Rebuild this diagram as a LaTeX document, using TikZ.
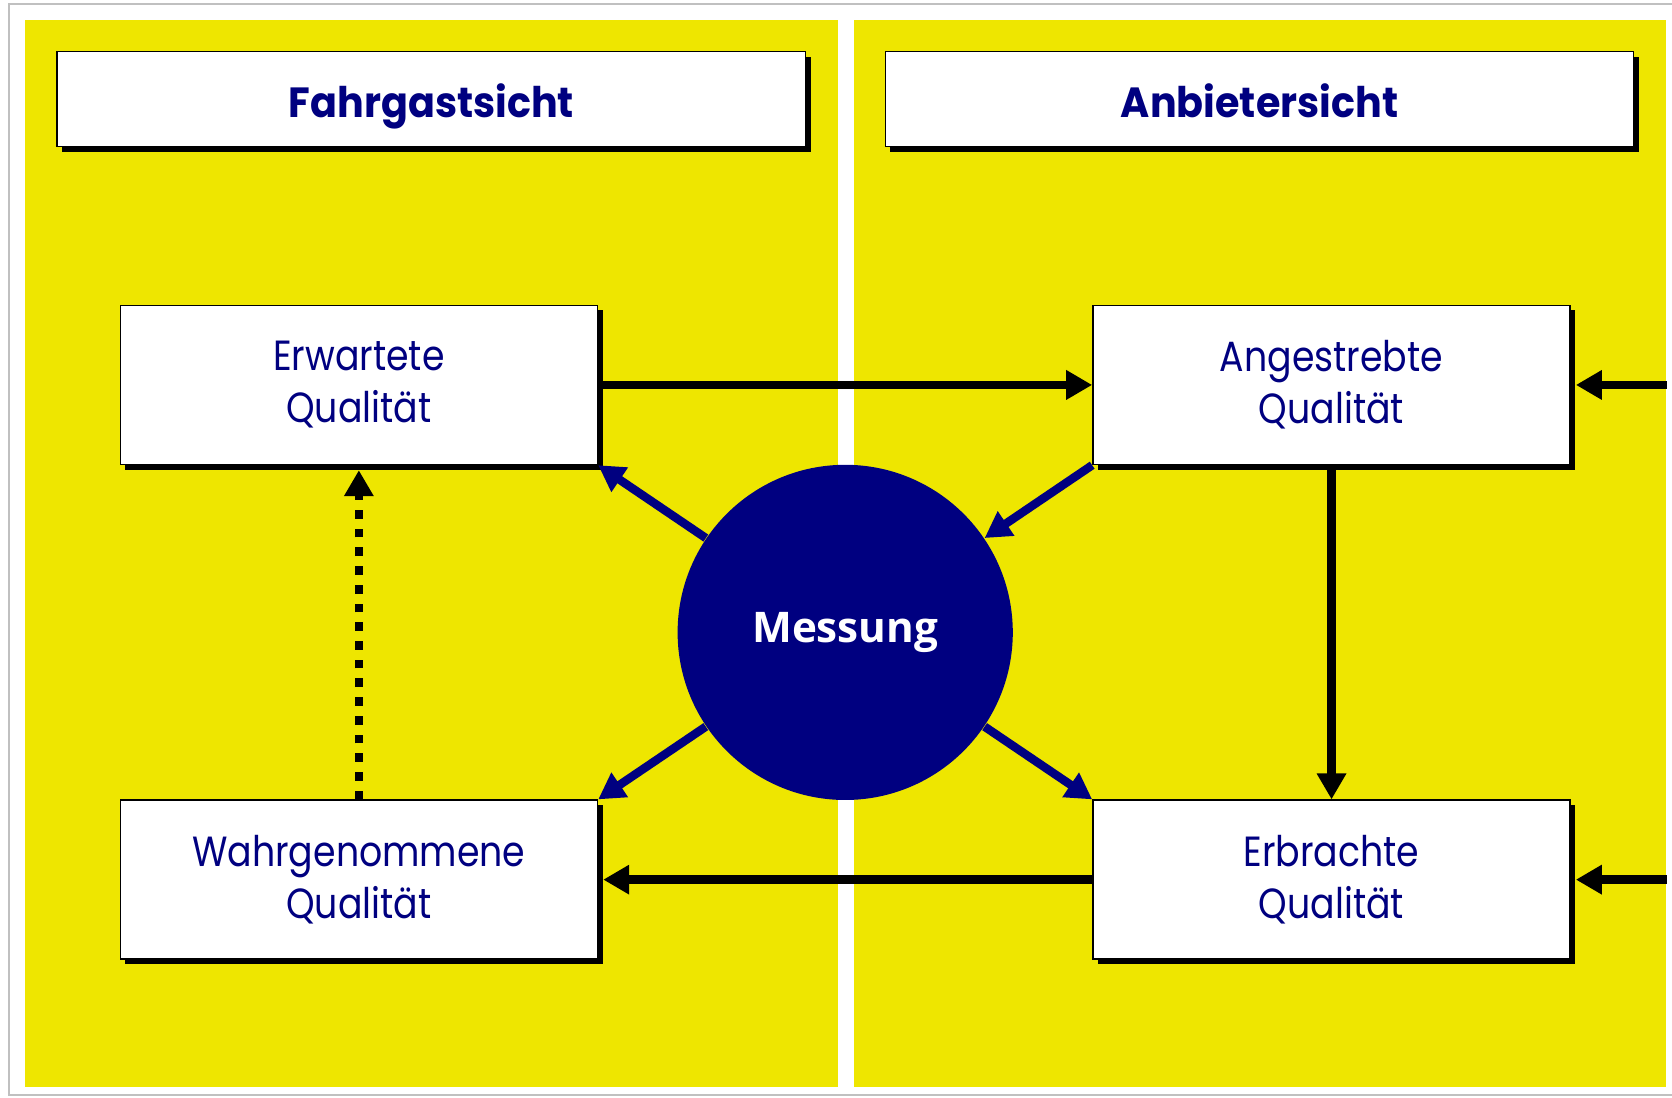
\documentclass[tikz,border=0pt]{standalone}
\usepackage{fontspec}
\usetikzlibrary{arrows.meta,shadows}
\newfontfamily\boxfont[FakeStretch=0.86]{Poppins}
\newfontfamily\headfont[FakeStretch=0.94]{Poppins}
\newfontfamily\circfont{Open Sans}
\definecolor{panel}{RGB}{238,230,0}
\definecolor{navy}{RGB}{0,0,128}
\definecolor{frame}{RGB}{192,192,192}

\begin{document}
\begin{tikzpicture}[x=0.01cm, y=-0.01cm,
        q/.style={draw, thin, fill=white, text=navy, align=center, inner sep=0pt,
            minimum width=4.77cm, minimum height=1.59cm,
            font=\boxfont\fontsize{12}{14.8}\selectfont,
            drop shadow={shadow xshift=0.05cm, shadow yshift=-0.05cm, fill=black, opacity=1}},
        hd/.style={q, minimum width=7.48cm, minimum height=0.95cm,
            text height=0.42cm, text depth=0.06cm,
            font=\headfont\bfseries\fontsize{12}{14}\selectfont},
        ms/.style={circle, fill=navy, text=white, inner sep=0pt, minimum size=3.35cm,
            font=\circfont\bfseries\fontsize{12}{14}\selectfont},
        kto/.style={line width=0.085cm, -{Triangle[length=0.26cm,width=0.28cm]}},
        bto/.style={kto, navy},
        dto/.style={kto, dash pattern=on 0.087cm off 0.1cm},
        every matrix/.style={ampersand replacement=\&,column sep=4.937cm,row sep=3.34cm}]
        \fill[white] (0,0) rectangle (1672,1098);
        \useasboundingbox (0,0) rectangle (1672,1098);
        \draw[frame, line width=0.015cm] (1672,4) -- (9,4) -- (9,1095) -- (1672,1095);

        % the two views
        \fill[panel] (25.3,20) rectangle (838,1087);
        \fill[panel] (853.6,20) rectangle (1666,1087);
        \node[hd] (fahrg) at (431.4,99.2) {Fahrgastsicht};
        \node[hd] (anbiet) at (1259.5,99.2) {Anbietersicht};

        \matrix (qm) at (845.2,632.3) {
            \node[q] (erw) {Erwartete\\Qualität}; \& \node[q] (ang) {Angestrebte\\Qualität};\\
            \node[q] (wahr) {Wahrgenommene\\Qualität}; \& \node[q] (erb) {Erbrachte\\Qualität};\\
        };

        \node[ms] (mess) at (845.2,632.4) {Messung};

        \coordinate (inang) at ([xshift=0.96cm]ang.east);
        \coordinate (inerb) at ([xshift=0.96cm]erb.east);

        \draw[kto] (erw.east) -- (ang.west);
        \draw[kto] (ang.south) -- (erb.north);
        \draw[kto] (erb.west) -- ([xshift=0.05cm]wahr.east);
        \draw[dto] (wahr.north) -- ([yshift=-0.05cm]erw.south);
        \draw[kto] (inang) -- ([xshift=0.05cm]ang.east);
        \draw[kto] (inerb) -- ([xshift=0.05cm]erb.east);

        % measurement
        \draw[bto] (mess) -- (erw.south east);
        \draw[bto] (ang.south west) -- (mess);
        \draw[bto] (mess) -- (wahr.north east);
        \draw[bto] (mess) -- (erb.north west);
    \end{tikzpicture}
\end{document}
